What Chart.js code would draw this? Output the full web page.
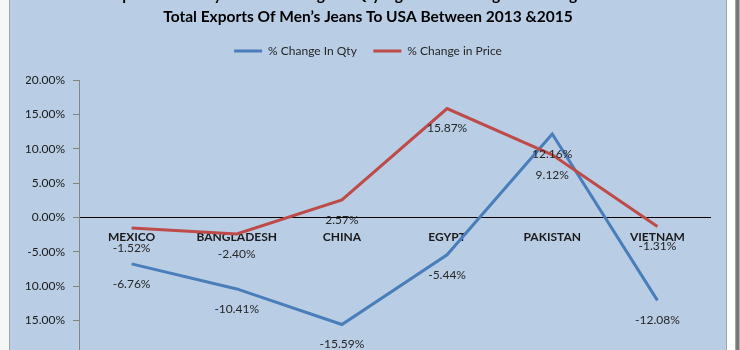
<!DOCTYPE html>
<html>
<head>
<meta charset="utf-8">
<script src="https://cdn.jsdelivr.net/npm/chart.js@4.4.1/dist/chart.umd.min.js"></script>
<style>
  html, body { margin: 0; padding: 0; width: 740px; height: 350px; overflow: hidden; background: #f6f6f6; position: relative; }
  #panel { position: absolute; left: 9px; top: -4px; width: 716px; height: 360px; background: #b9cde5;
           border-left: 1px solid #a3a3a3; border-right: 1px solid #98a6b6; }
  #edge { position: absolute; left: 727px; top: 0; width: 8px; height: 350px; background: #ffffff; }
  #shadow { position: absolute; left: 735px; top: 0; width: 5px; height: 350px;
            background: linear-gradient(to right, #b5b5b5, #6e6e6e 40%, #7c7c7c 70%, #c9c9c9); }
  #chart { position: absolute; left: 0; top: -20px; }
</style>
</head>
<body>
<div id="panel"></div>
<div id="edge"></div>
<div id="shadow"></div>
<canvas id="chart" width="736" height="390"></canvas>
<script>
// Exporting countries
const countries = ['MEXICO', 'BANGLADESH', 'CHINA', 'EGYPT', 'PAKISTAN', 'VIETNAM'];

// % change 2013 -> 2015, quantity and average price
const qtyChange = [-6.76, -10.41, -15.59, -5.44, 12.16, -12.08];
const priceChange = [-1.52, -2.40, 2.57, 15.87, 9.12, -1.31];

const seriesNames = ['% Change In Qty', '% Change in Price'];

// Value axis range and tick spacing (percent)
const yMin = -20;
const yMax = 20;
const yStep = 5;

const titleLines = [
  'Comparative Analysis Of % Change In Qty Against % Change In Average Price Of',
  'Total Exports Of Men\u2019s Jeans To USA Between 2013 &2015'
];

Chart.defaults.font.family = "Lato, 'Liberation Sans', sans-serif";

// Percentage label under each point
const pointLabels = {
  id: 'pointLabels',
  afterDatasetsDraw(chart) {
    const { ctx } = chart;
    ctx.save();
    ctx.font = "12px Lato, 'Liberation Sans', sans-serif";
    ctx.fillStyle = '#262626';
    ctx.textAlign = 'center';
    ctx.textBaseline = 'middle';
    chart.data.datasets.forEach((ds, i) => {
      chart.getDatasetMeta(i).data.forEach((pt, j) => {
        ctx.fillText(ds.data[j].toFixed(2) + '%', pt.x, pt.y + 20);
      });
    });
    ctx.restore();
  }
};

// Extra room between the legend and the plot
const legendGap = {
  id: 'legendGap',
  beforeInit(chart) {
    const fit = chart.legend.fit;
    chart.legend.fit = function () {
      fit.call(this);
      this.height += 13.2;
    };
  }
};

new Chart(document.getElementById('chart'), {
  type: 'line',
  data: {
    labels: countries,
    datasets: [
      {
        label: seriesNames[0],
        data: qtyChange,
        borderColor: '#4a7ebb',
        backgroundColor: '#4a7ebb',
        borderWidth: 3,
        pointRadius: 0,
        pointHoverRadius: 0,
        tension: 0,
        order: 1
      },
      {
        label: seriesNames[1],
        data: priceChange,
        borderColor: '#be4b48',
        backgroundColor: '#be4b48',
        borderWidth: 3,
        pointRadius: 0,
        pointHoverRadius: 0,
        tension: 0,
        order: 0
      }
    ]
  },
  options: {
    responsive: false,
    animation: false,
    layout: { padding: { top: 0, left: 26, right: 26, bottom: 11.7 } },
    plugins: {
      title: {
        display: true,
        text: titleLines,
        color: '#000000',
        font: { size: 15.5, weight: 'bold', lineHeight: 1.45 },
        padding: { top: 3.5, bottom: 0 }
      },
      legend: {
        display: true,
        position: 'top',
        labels: {
          boxWidth: 28,
          boxHeight: 3,
          padding: 16.5,
          color: '#262626',
          font: { size: 12 },
          sort: (a, b) => a.datasetIndex - b.datasetIndex,
          generateLabels(chart) {
            return Chart.defaults.plugins.legend.labels.generateLabels(chart)
              .map(item => ({ ...item, fillStyle: item.strokeStyle, lineWidth: 0 }));
          }
        }
      },
      tooltip: { enabled: false }
    },
    scales: {
      x: {
        position: { y: 0 },
        offset: true,
        grid: { display: false, drawTicks: false },
        border: { display: true, color: '#000000', width: 1 },
        ticks: { padding: 12, color: '#1a1a1a', font: { size: 12, weight: 'bold' } },
        afterFit(scale) { scale.height = 0; }
      },
      y: {
        min: yMin,
        max: yMax,
        ticks: {
          stepSize: yStep,
          padding: 8,
          color: '#1a1a1a',
          font: { size: 12 },
          callback: v => v.toFixed(2) + '%'
        },
        grid: { drawOnChartArea: false, drawTicks: true, tickLength: 6, color: '#868686' },
        border: { color: '#868686', width: 1 },
        afterFit(scale) { scale.width = 53; }
      }
    }
  },
  plugins: [pointLabels, legendGap]
});
</script>
</body>
</html>
